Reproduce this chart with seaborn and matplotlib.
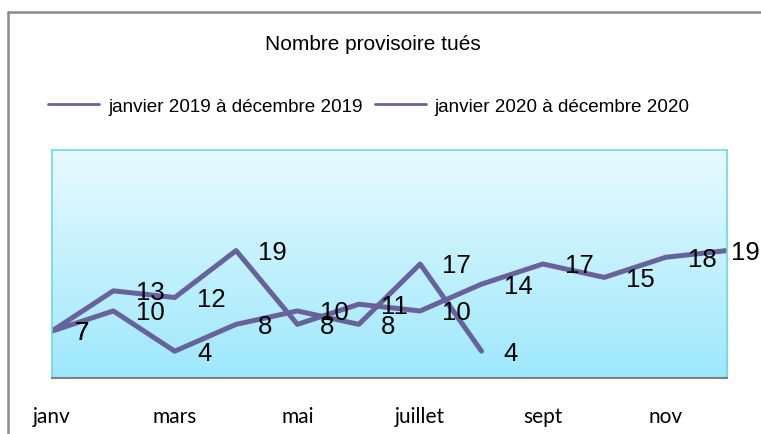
import numpy as np
import pandas as pd
import seaborn as sns
import matplotlib.pyplot as plt
from matplotlib.lines import Line2D
from matplotlib.colors import LinearSegmentedColormap

# données
mois = ["janv", "févr", "mars", "avr", "mai", "juin", "juillet", "août", "sept", "oct", "nov", "déc"]
tues_2019 = [7, 13, 12, 19, 8, 11, 10, 14, 17, 15, 18, 19]
tues_2020 = [7, 10, 4, 8, 10, 8, 17, 4]
series = ["janvier 2019 à décembre 2019", "janvier 2020 à décembre 2020"]

df = pd.concat([
    pd.DataFrame({"mois": range(len(tues_2019)), "tues": tues_2019, "periode": series[0]}),
    pd.DataFrame({"mois": range(len(tues_2020)), "tues": tues_2020, "periode": series[1]}),
])

sns.set_theme(style="white")
plt.rcParams["font.family"] = ["Liberation Sans", "DejaVu Sans"]

line_color = "#67629a"
fig = plt.figure(figsize=(7.61, 4.35), dpi=100)
ax = fig.add_axes([0.0683, 0.1287, 0.8870, 0.5242])

# fond dégradé de la zone de tracé
grad = np.linspace(0, 1, 256).reshape(-1, 1)
cmap = LinearSegmentedColormap.from_list("fond", ["#e8faff", "#9de8fc"])
ax.imshow(grad, aspect="auto", cmap=cmap, extent=[0, 1, 0, 1],
          transform=ax.transAxes, zorder=0)

sns.lineplot(data=df, x="mois", y="tues", hue="periode",
             palette=[line_color, line_color], linewidth=3.6,
             legend=False, ax=ax, zorder=2)

# étiquettes de valeurs (la dernière est rentrée, comme dans Excel)
last = len(mois) - 1
for vals in (tues_2019, tues_2020):
    for i, v in enumerate(vals):
        dx = 3 if i == last else 16
        ax.annotate(str(v), (i, v), xytext=(dx, -1), textcoords="offset points",
                    ha="left", va="center", fontsize=18.5, color="black", zorder=3)

ax.set_xlim(0, last)
ax.set_ylim(0, 34)
ax.set_xticks(range(0, len(mois), 2))
ax.set_xticklabels(mois[::2], fontfamily="Lato", fontsize=15, color="black")
ax.set_yticks([])
ax.tick_params(axis="x", length=0, pad=20)
ax.set_xlabel("")
ax.set_ylabel("")

for side in ["top", "right", "left"]:
    ax.spines[side].set_color("#6fd8e2")
    ax.spines[side].set_linewidth(1.2)
ax.spines["bottom"].set_color("#808080")
ax.spines["bottom"].set_linewidth(1.5)

fig.text(0.49, 0.897, "Nombre provisoire tués", ha="center", va="center",
         fontsize=15, color="black")

handles = [Line2D([], [], color=line_color, lw=2) for _ in series]
leg = fig.legend(handles, series, loc="center", bbox_to_anchor=(0.485, 0.754), ncol=2,
                 frameon=False, fontsize=13.6, handlelength=2.7, handletextpad=0.5,
                 columnspacing=0.6)
for t in leg.get_texts():
    t.set_color("black")

# cadre extérieur (haut et gauche)
fig.add_artist(Line2D([8 / 761, 8 / 761], [0, 1 - 13 / 435],
                      transform=fig.transFigure, color="#8a8a8a", lw=1.8))
fig.add_artist(Line2D([8 / 761, 1], [1 - 13 / 435, 1 - 13 / 435],
                      transform=fig.transFigure, color="#8a8a8a", lw=1.8))

fig.savefig("out.png", dpi=100)
